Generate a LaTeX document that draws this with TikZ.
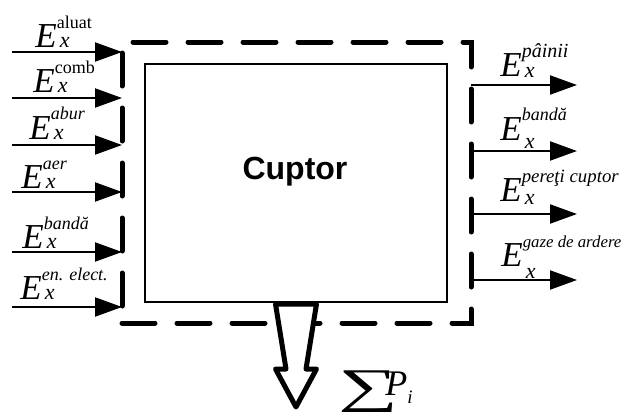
\documentclass[tikz,border=0pt]{standalone}
\usepackage{fontspec}
\setmainfont{Liberation Serif}
\newfontfamily\arialfont{Liberation Sans}
\usetikzlibrary{arrows.meta}

% energy label: E, subscript x (dropped by #1), superscript #3 at size #2
\newcommand{\Ex}[3]{\textit{E}\rlap{\kern1.5pt\raisebox{-#1}{\fontsize{11}{11}\selectfont\itshape x}}\raisebox{9.5pt}{\fontsize{#2}{#2}\selectfont #3}}

\begin{document}
\begin{tikzpicture}[x=0.5pt, y=-0.5pt,
  flow/.style={line width=1pt, -{Triangle[length=13.5pt, width=9.5pt]}},
  elabel/.style={anchor=base west, inner sep=0pt, font=\fontsize{17.5}{18}\selectfont},
  boundary/.style={draw, line width=2.5pt, dash pattern=on 16.5pt off 11pt, line cap=round,
                   inner sep=0pt, outer sep=0pt, minimum width=174.5pt, minimum height=140.5pt},
  ovenbox/.style={draw, line width=1pt, inner sep=0pt, outer sep=0pt,
                  minimum width=151pt, minimum height=119pt},
  hollow/.style={draw, fill=white, line width=2.5pt, line join=round}
]
\useasboundingbox (0,0) rectangle (627,412);

% Oven and its boundary
\node[boundary] (bound) at (296.5,182.5) {};
\node[ovenbox] (oven) at (296,183) {};
\node[font=\arialfont\bfseries\fontsize{16}{18}\selectfont] (ovenname) at (295,172) {Cuptor};

% Inputs
\foreach \name/\y in {aluat/52, comb/98, abur/145, aer/192, banda/252, elect/307}{
  \coordinate (in-\name) at (12,\y);
  \draw[flow] (in-\name) -- (in-\name -| bound.west);
}
\node[elabel] (l-aluat) at (35,47) {\Ex{0pt}{9}{aluat}};
\node[elabel] (l-comb) at (33,92) {\Ex{0pt}{9}{comb}};
\node[elabel] (l-abur) at (29,139) {\Ex{0pt}{9}{\itshape abur}};
\node[elabel] (l-aer) at (21,188) {\Ex{0pt}{9}{\itshape aer}};
\node[elabel] (l-bandain) at (22,248) {\Ex{0pt}{9}{\itshape bandă}};
\node[elabel] (l-elect) at (20,299) {\Ex{0pt}{9}{\itshape en. elect.}};

% Outputs
\foreach \name/\y in {paine/85, banda/151, pereti/214, gaze/280}{
  \coordinate (out-\name) at (577,\y);
  \draw[flow] (out-\name -| bound.east) -- (out-\name);
}
\node[elabel] (l-paine) at (500,76) {\Ex{0.5pt}{10}{\itshape pâinii}};
\node[elabel] (l-bandaout) at (500,140) {\Ex{4pt}{9}{\itshape bandă}};
\node[elabel] (l-pereti) at (500,201) {\Ex{1.5pt}{9.4}{\itshape pereţi cuptor}};
\node[elabel] (l-gaze) at (501,266) {\Ex{6pt}{8.4}{\itshape gaze de ardere}};

% Losses
\draw[hollow] (275.5,304) -- (316.5,304) -- (306,369) -- (316.5,369) -- (296,407)
  -- (275.5,369) -- (286,369) -- cycle;
\node[anchor=base west, inner sep=0pt, font=\fontsize{18}{20}\selectfont] (losses) at (338,395)
  {\raisebox{-9pt}{\resizebox*{30pt}{21pt}{\raisebox{\depth}{∑}}}\kern-6.5pt\textit{P}\raisebox{-4pt}{\fontsize{9.5}{9.5}\selectfont\itshape i}};
\end{tikzpicture}
\end{document}
